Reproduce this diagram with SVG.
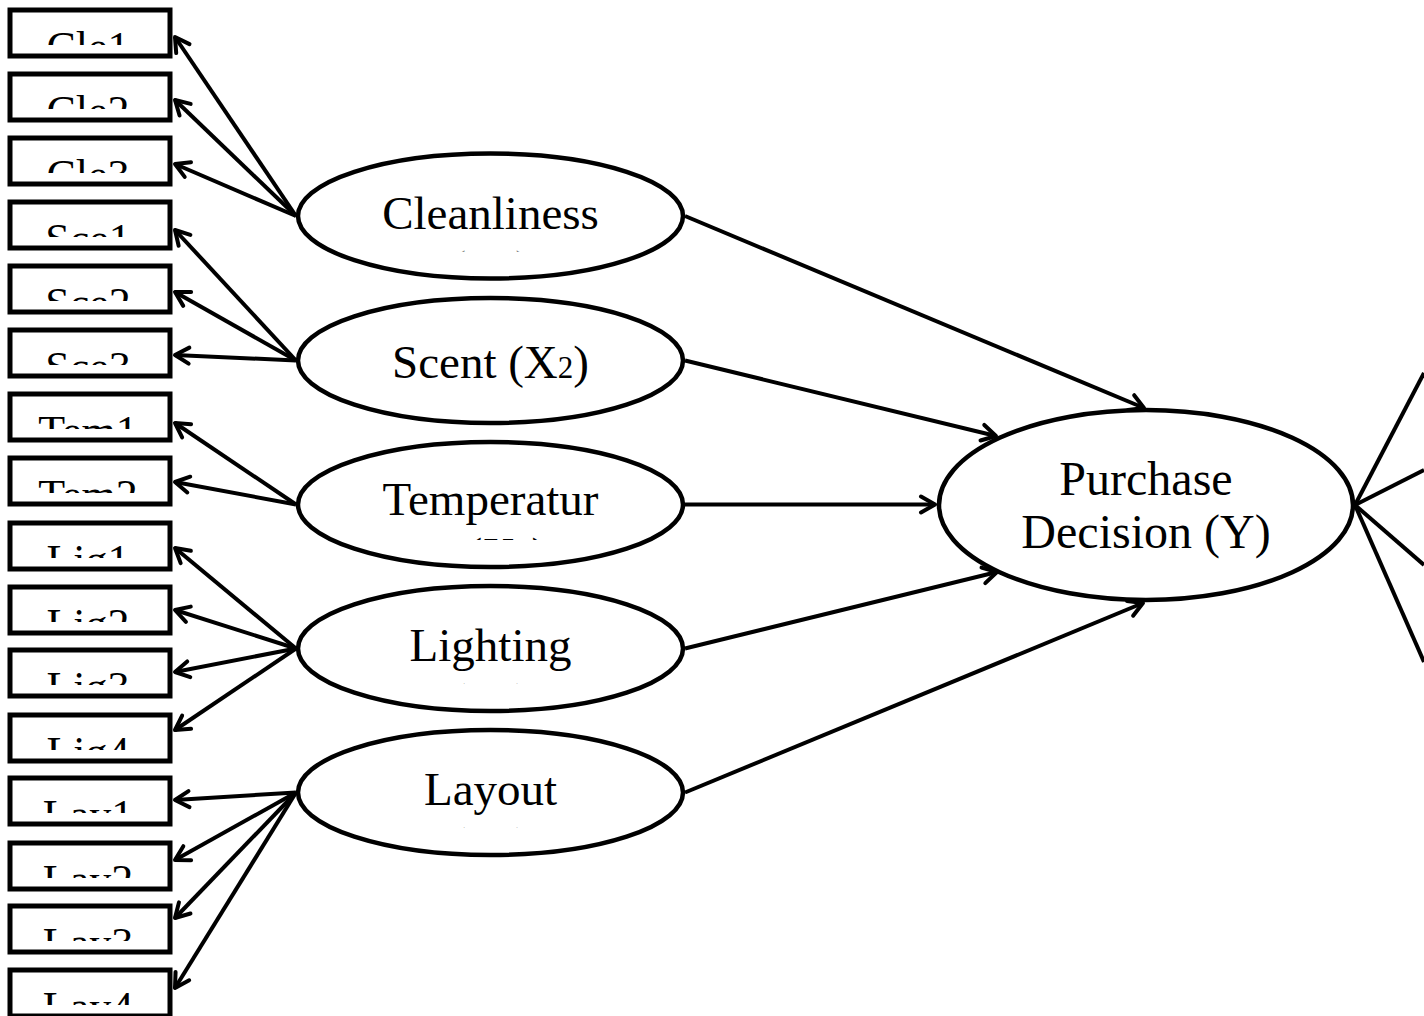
<svg xmlns="http://www.w3.org/2000/svg" width="1424" height="1016" viewBox="0 0 1424 1016">
<style>
.bx{fill:#fff;stroke:#000;stroke-width:5}
.el{fill:#fff;stroke:#000;stroke-width:4.5}
.bt{font-family:"Liberation Serif","Times New Roman",serif;font-size:44px;fill:#000;text-anchor:middle}
.et{font-family:"Liberation Serif","Times New Roman",serif;font-size:47px;fill:#000;text-anchor:middle}
.sub{font-size:31px}
.cn line{stroke:#000;stroke-width:4;fill:none}
.ar{marker-end:url(#ah)}
</style>
<defs>
<marker id="ah" markerUnits="userSpaceOnUse" markerWidth="40" markerHeight="40" viewBox="-20 -20 40 40" refX="0" refY="0" orient="auto" overflow="visible">
<path d="M-14,-8 L0,0 L-14,8" fill="none" stroke="#000" stroke-width="4" stroke-linecap="round" stroke-linejoin="round"/>
</marker>
<clipPath id="boxclip"><rect x="10" y="0" width="160" height="35"/></clipPath>
<clipPath id="elclip"><rect x="-200" y="-70" width="400" height="105.5"/></clipPath>
</defs>
<rect x="0" y="0" width="1424" height="1016" fill="#fff"/>

<g class="cn" id="connectors">
<line class="ar" x1="296" y1="216" x2="175" y2="37"/>
<line class="ar" x1="296" y1="216" x2="175" y2="100"/>
<line class="ar" x1="296" y1="216" x2="175" y2="164"/>
<line class="ar" x1="296" y1="360.5" x2="175" y2="230"/>
<line class="ar" x1="296" y1="360.5" x2="175" y2="292"/>
<line class="ar" x1="296" y1="360.5" x2="175" y2="355"/>
<line class="ar" x1="296" y1="504.5" x2="175" y2="423"/>
<line class="ar" x1="296" y1="504.5" x2="175" y2="482"/>
<line class="ar" x1="296" y1="648.5" x2="175" y2="548"/>
<line class="ar" x1="296" y1="648.5" x2="175" y2="610"/>
<line class="ar" x1="296" y1="648.5" x2="175" y2="672"/>
<line class="ar" x1="296" y1="648.5" x2="175" y2="730"/>
<line class="ar" x1="296" y1="792.5" x2="175" y2="800"/>
<line class="ar" x1="296" y1="792.5" x2="175" y2="860"/>
<line class="ar" x1="296" y1="792.5" x2="175" y2="918"/>
<line class="ar" x1="296" y1="792.5" x2="175" y2="988"/>
<line class="ar" x1="685" y1="216" x2="1144" y2="408"/>
<line class="ar" x1="685" y1="360.5" x2="996" y2="436"/>
<line class="ar" x1="685" y1="504.5" x2="935" y2="504.5"/>
<line class="ar" x1="685" y1="648.5" x2="997" y2="572"/>
<line class="ar" x1="685" y1="792.5" x2="1143" y2="603"/>
<line x1="1355" y1="505" x2="1424" y2="373"/>
<line x1="1355" y1="505" x2="1424" y2="470"/>
<line x1="1355" y1="505" x2="1424" y2="565"/>
<line x1="1355" y1="505" x2="1424" y2="662"/>
</g>

<g id="cle1" transform="translate(0,10)"><rect class="bx" x="10" y="0" width="160" height="46"/><text class="bt" x="88" y="52" clip-path="url(#boxclip)">Cle1</text></g>
<g id="cle2" transform="translate(0,74)"><rect class="bx" x="10" y="0" width="160" height="46"/><text class="bt" x="88" y="52" clip-path="url(#boxclip)">Cle2</text></g>
<g id="cle3" transform="translate(0,138)"><rect class="bx" x="10" y="0" width="160" height="46"/><text class="bt" x="88" y="52" clip-path="url(#boxclip)">Cle3</text></g>
<g id="sce1" transform="translate(0,202)"><rect class="bx" x="10" y="0" width="160" height="46"/><text class="bt" x="88" y="52" clip-path="url(#boxclip)">Sce1</text></g>
<g id="sce2" transform="translate(0,266)"><rect class="bx" x="10" y="0" width="160" height="46"/><text class="bt" x="88" y="52" clip-path="url(#boxclip)">Sce2</text></g>
<g id="sce3" transform="translate(0,330)"><rect class="bx" x="10" y="0" width="160" height="46"/><text class="bt" x="88" y="52" clip-path="url(#boxclip)">Sce3</text></g>
<g id="tem1" transform="translate(0,394)"><rect class="bx" x="10" y="0" width="160" height="46"/><text class="bt" x="88" y="52" clip-path="url(#boxclip)">Tem1</text></g>
<g id="tem2" transform="translate(0,458)"><rect class="bx" x="10" y="0" width="160" height="46"/><text class="bt" x="88" y="52" clip-path="url(#boxclip)">Tem2</text></g>
<g id="lig1" transform="translate(0,523)"><rect class="bx" x="10" y="0" width="160" height="46"/><text class="bt" x="88" y="52" clip-path="url(#boxclip)">Lig1</text></g>
<g id="lig2" transform="translate(0,587)"><rect class="bx" x="10" y="0" width="160" height="46"/><text class="bt" x="88" y="52" clip-path="url(#boxclip)">Lig2</text></g>
<g id="lig3" transform="translate(0,650)"><rect class="bx" x="10" y="0" width="160" height="46"/><text class="bt" x="88" y="52" clip-path="url(#boxclip)">Lig3</text></g>
<g id="lig4" transform="translate(0,715)"><rect class="bx" x="10" y="0" width="160" height="46"/><text class="bt" x="88" y="52" clip-path="url(#boxclip)">Lig4</text></g>
<g id="lay1" transform="translate(0,778)"><rect class="bx" x="10" y="0" width="160" height="46"/><text class="bt" x="88" y="52" clip-path="url(#boxclip)">Lay1</text></g>
<g id="lay2" transform="translate(0,843)"><rect class="bx" x="10" y="0" width="160" height="46"/><text class="bt" x="88" y="52" clip-path="url(#boxclip)">Lay2</text></g>
<g id="lay3" transform="translate(0,906)"><rect class="bx" x="10" y="0" width="160" height="46"/><text class="bt" x="88" y="52" clip-path="url(#boxclip)">Lay3</text></g>
<g id="lay4" transform="translate(0,970)"><rect class="bx" x="10" y="0" width="160" height="46"/><text class="bt" x="88" y="52" clip-path="url(#boxclip)">Lay4</text></g>

<g id="cleanliness" transform="translate(490.5,216)"><ellipse class="el" cx="0" cy="0" rx="192.5" ry="62.5"/><g clip-path="url(#elclip)"><text class="et" x="0" y="13">Cleanliness</text><text class="et" x="0" y="67">(X<tspan class="sub">1</tspan>)</text></g></g>
<g id="scent" transform="translate(490.5,360.5)"><ellipse class="el" cx="0" cy="0" rx="192.5" ry="62.5"/><text class="et" x="0" y="17">Scent (X<tspan class="sub">2</tspan>)</text></g>
<g id="temperature" transform="translate(490.5,504.5)"><ellipse class="el" cx="0" cy="0" rx="192.5" ry="62.5"/><g clip-path="url(#elclip)"><text class="et" x="0" y="10.5">Temperatur</text><text class="et" x="0" y="65">e (X<tspan class="sub">3</tspan>)</text></g></g>
<g id="lighting" transform="translate(490.5,648.5)"><ellipse class="el" cx="0" cy="0" rx="192.5" ry="62.5"/><g clip-path="url(#elclip)"><text class="et" x="0" y="12">Lighting</text><text class="et" x="0" y="67">(X<tspan class="sub">4</tspan>)</text></g></g>
<g id="layout" transform="translate(490.5,792.5)"><ellipse class="el" cx="0" cy="0" rx="192.5" ry="62.5"/><g clip-path="url(#elclip)"><text class="et" x="0" y="12.5">Layout</text><text class="et" x="0" y="67">(X<tspan class="sub">5</tspan>)</text></g></g>

<g id="purchase"><ellipse class="el" cx="1146" cy="505" rx="207" ry="95"/><text class="et" x="1146" y="495" style="font-size:48px">Purchase</text><text class="et" x="1146" y="548" style="font-size:48px">Decision (Y)</text></g>
</svg>
